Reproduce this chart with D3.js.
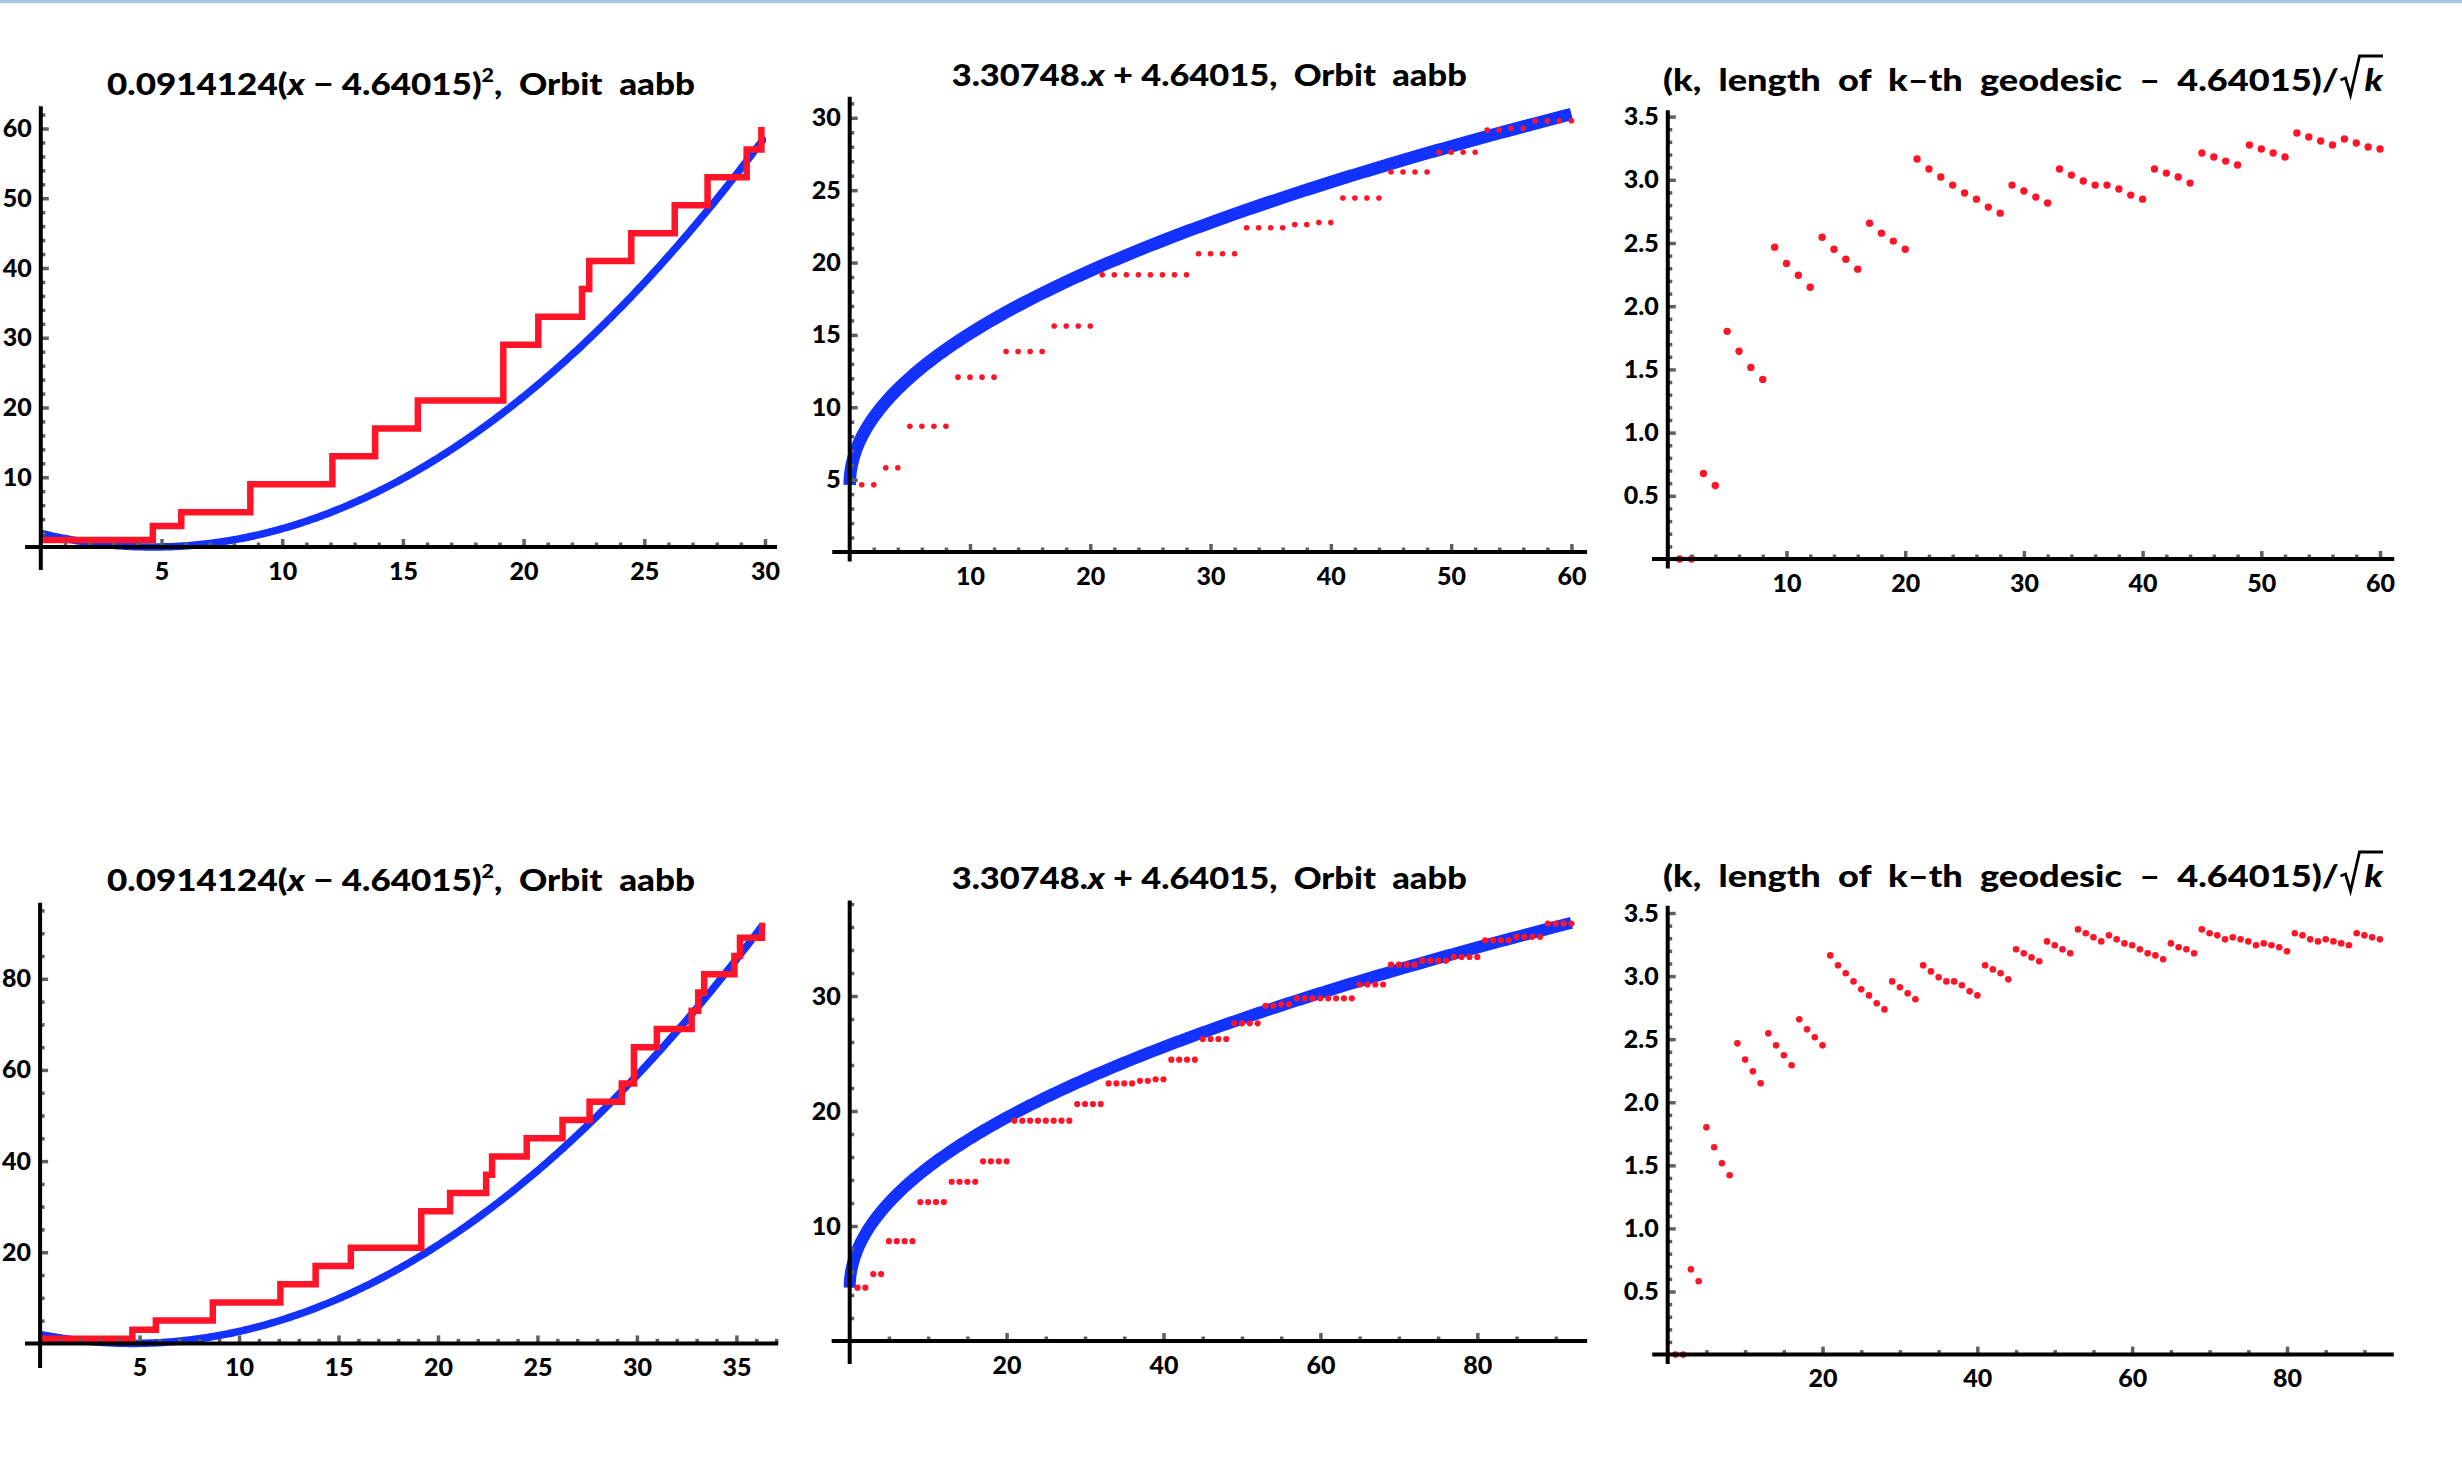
<!DOCTYPE html>
<html>
<head>
<meta charset="utf-8">
<script src="https://cdn.jsdelivr.net/npm/d3@7"></script>
<style>
  body { margin: 0; background: #fff; }
  text { font-family: Lato, "DejaVu Sans", sans-serif; font-weight: 900; }
  .title { white-space: pre; }
</style>
</head>
<body>
<div id="chart"></div>
<script>
// Orbit aabb: length of the k-th geodesic, k = 1..92
var kthLength = [
  4.64, 4.64, 5.82, 5.82,
  8.68, 8.68, 8.68, 8.68, 12.08, 12.08, 12.08, 12.08,
  13.85, 13.85, 13.85, 13.85, 15.62, 15.62, 15.62, 15.62,
  19.16, 19.16, 19.16, 19.16, 19.16, 19.16, 19.16, 19.16,
  20.61, 20.61, 20.61, 20.61, 22.40, 22.40, 22.40, 22.40,
  22.62, 22.62, 22.76, 22.76, 24.46, 24.46, 24.46, 24.46,
  26.26, 26.26, 26.26, 26.26, 27.62, 27.62, 27.62, 27.62,
  29.15, 29.15, 29.28, 29.28,
  29.80, 29.80, 29.80, 29.80, 29.80, 29.80, 29.80, 29.80,
  31.00, 31.00, 31.00, 31.00, 32.72, 32.72, 32.72, 32.72,
  33.07, 33.07, 33.07, 33.07, 33.40, 33.40, 33.40, 33.40,
  34.85, 34.85, 34.85, 34.85, 35.15, 35.15, 35.15, 35.15,
  36.30, 36.30, 36.30, 36.30
];

// (length of k-th geodesic - 4.64015)/sqrt(k), k = 1..92
var normExcess = [
  0, 0, 0.676, 0.581,
  1.801, 1.643, 1.516, 1.421, 2.467, 2.338, 2.245, 2.150,
  2.546, 2.451, 2.372, 2.293, 2.657, 2.578, 2.515, 2.451,
  3.164, 3.085, 3.022, 2.958, 2.895, 2.847, 2.784, 2.736,
  2.958, 2.911, 2.863, 2.816, 3.085, 3.037, 2.990, 2.958,
  2.958, 2.927, 2.879, 2.847, 3.085, 3.053, 3.022, 2.974,
  3.212, 3.180, 3.148, 3.117, 3.275, 3.244, 3.212, 3.180,
  3.370, 3.339, 3.307, 3.275,
  3.323, 3.291, 3.259, 3.244, 3.212, 3.180, 3.164, 3.133,
  3.259, 3.228, 3.212, 3.180, 3.370, 3.339, 3.323, 3.291,
  3.307, 3.291, 3.275, 3.244, 3.259, 3.244, 3.228, 3.196,
  3.339, 3.323, 3.291, 3.275, 3.291, 3.275, 3.259, 3.244,
  3.339, 3.323, 3.307, 3.291
];

// staircase of the left panels: where it jumps, and its level before/after each jump
var stepJumps = [4.64, 5.82, 8.68, 12.08, 13.85, 15.62, 19.16, 20.61, 22.42, 22.72,
  24.46, 26.26, 27.62, 29.24, 29.85, 31.00, 32.75, 33.08, 33.38, 34.90, 35.18, 36.30];
var stepLevels = [1, 3, 5, 9, 13, 17, 21, 29, 33, 37, 41,
  45, 49, 53, 57, 65, 69, 73, 77, 81, 85, 89, 93];

// fitted curves named in the titles
var shortest = 4.64015;
var quadCoef = 0.0914124;
var sqrtCoef = 3.30748;

var red = "#ff1428";
var blue = "#1432ff";

var svgWidth = 2462;
var svgHeight = 1468;

var svg = d3.select("#chart")
    .append("svg")
    .attr("width", svgWidth)
    .attr("height", svgHeight);

// thin window strip at the very top
svg.append("rect")
    .attr("width", svgWidth)
    .attr("height", 3)
    .attr("fill", "#a6c8e4");

var titles = {
    quad: [["0.0914124", ""], ["(", ""], ["x", "i"], [" \u2212 4.64015", ""], [")", ""], ["2", "sup"], [",  Orbit  aabb", ""]],
    sqrt: [["3.30748.", ""], ["x", "i"], [" + 4.64015,  Orbit  aabb", ""]],
    excess: [["(k,  length  of  k\u2013th  geodesic  \u2013  4.64015)/", ""], ["   ", ""], ["k", "i"]]
};

// layout of the six panels (pixel anchors of the plot ranges)
var panels = [
    {kind: "count", n: 60, xd: [0, 30], xr: [40.8, 765], yd: [0, 60], yr: [547, 128.5],
     xExt: [-0.65, 30.5], yExt: [-3.3, 63.2], xMaj: 5, xMin: 1, yMaj: 10, yMin: 2,
     clipX: 30, clipY: 60.2, title: "quad", tx: [107, 695], ty: 95},
    {kind: "length", n: 60, xd: [0, 60], xr: [849.7, 1571.4], yd: [0, 30], yr: [552, 117.8],
     xExt: [-1.45, 61.3], yExt: [-0.65, 31.45], xMaj: 10, xMin: 2, yMaj: 5, yMin: 1,
     r: 2.8, lw: 12.5, title: "sqrt", tx: [951.7, 1466.8], ty: 86},
    {kind: "excess", n: 60, xd: [0, 60], xr: [1667.8, 2380], yd: [0, 3.5], yr: [559, 116.6],
     xExt: [-1.33, 61.2], yExt: [-0.075, 3.55], xMaj: 10, xMin: 2, yMaj: 0.5, yMin: 0.1,
     r: 3.7, title: "excess", tx: [1663, 2383], ty: 91},
    {kind: "count", n: 92, xd: [0, 35], xr: [40.1, 736.4], yd: [0, 80], yr: [1343.4, 978.8],
     xExt: [-0.76, 37.1], yExt: [-5.4, 96.7], xMaj: 5, xMin: 1, yMaj: 20, yMin: 5,
     clipX: 36.4, clipY: 92.3, title: "quad", tx: [107, 695], ty: 891},
    {kind: "length", n: 92, xd: [0, 80], xr: [849.7, 1477.3], yd: [0, 30], yr: [1341, 996],
     xExt: [-2.3, 94], yExt: [-2, 38.3], xMaj: 20, xMin: 5, yMaj: 10, yMin: 2,
     r: 3.1, lw: 12, title: "sqrt", tx: [951.7, 1466.8], ty: 889},
    {kind: "excess", n: 92, xd: [0, 80], xr: [1667.7, 2287], yd: [0, 3.5], yr: [1354.6, 913],
     xExt: [-2, 93.8], yExt: [-0.075, 3.557], xMaj: 20, xMin: 5, yMaj: 0.5, yMin: 0.1,
     r: 3.3, title: "excess", tx: [1663, 2383], ty: 887}
];

function multiples(step, end) {
    return d3.range(1, Math.floor(end / step + 1e-6) + 1).map(i => +(i * step).toFixed(4));
}

function minors(step, majStep, end) {
    return multiples(step, end).filter(v => Math.abs(v / majStep - Math.round(v / majStep)) > 1e-6);
}

function styleTicks(sel) {
    sel.select(".domain").remove();
    sel.selectAll(".tick line")
        .attr("stroke", "#606060")
        .attr("stroke-width", 3.5);
    sel.selectAll(".tick text")
        .attr("fill", "#000")
        .style("font-size", "25px");
}

function drawAxes(g, p, xs, ys) {
    var fmtY = p.yMaj < 1 ? d3.format(".1f") : d3.format("d");

    var xMinor = g.append("g").attr("transform", `translate(0, ${ys(0)})`)
        .call(d3.axisBottom(xs).tickValues(minors(p.xMin, p.xMaj, p.xExt[1])).tickSize(-4.5).tickFormat(""));
    styleTicks(xMinor);
    var xMajor = g.append("g").attr("transform", `translate(0, ${ys(0)})`)
        .call(d3.axisBottom(xs).tickValues(multiples(p.xMaj, p.xExt[1])).tickSize(-8).tickPadding(15).tickFormat(d3.format("d")));
    styleTicks(xMajor);

    var yMinor = g.append("g").attr("transform", `translate(${xs(0)}, 0)`)
        .call(d3.axisLeft(ys).tickValues(minors(p.yMin, p.yMaj, p.yExt[1])).tickSize(-4.5).tickFormat(""));
    styleTicks(yMinor);
    var yMajor = g.append("g").attr("transform", `translate(${xs(0)}, 0)`)
        .call(d3.axisLeft(ys).tickValues(multiples(p.yMaj, p.yExt[1])).tickSize(-8).tickPadding(9).tickFormat(fmtY));
    styleTicks(yMajor);

    // the axis lines themselves
    g.append("line")
        .attr("x1", xs(p.xExt[0])).attr("x2", xs(p.xExt[1]))
        .attr("y1", ys(0)).attr("y2", ys(0))
        .attr("stroke", "#000").attr("stroke-width", 4);
    g.append("line")
        .attr("x1", xs(0)).attr("x2", xs(0))
        .attr("y1", ys(p.yExt[0])).attr("y2", ys(p.yExt[1]))
        .attr("stroke", "#000").attr("stroke-width", 4);
}

function drawTitle(p) {
    var segs = titles[p.title];
    var t = svg.append("text")
        .attr("class", "title")
        .attr("x", p.tx[0])
        .attr("y", p.ty)
        .style("font-size", "31px");
    var lift = 0;
    segs.forEach(function(s) {
        var ts = t.append("tspan").text(s[0]);
        if (s[1] === "i") ts.style("font-style", "italic");
        if (s[1] === "sup") {
            ts.attr("dy", -13).style("font-size", "19px");
            lift = 13;
        } else if (lift) {
            ts.attr("dy", lift);
            lift = 0;
        }
    });
    t.attr("textLength", p.tx[1] - p.tx[0]).attr("lengthAdjust", "spacingAndGlyphs");

    if (p.title === "excess") {
        // radical sign over the final k
        var nChars = d3.sum(segs, s => s[0].length);
        var box = t.node().getExtentOfChar(nChars - 1);
        var kx = box.x, b = p.ty;
        svg.append("path")
            .attr("d", `M${kx - 24},${b - 11} L${kx - 19},${b - 13} L${kx - 14},${b + 4} L${kx - 5},${b - 35} L${p.tx[1]},${b - 35}`)
            .attr("fill", "none")
            .attr("stroke", "#000")
            .attr("stroke-width", 2.8)
            .attr("stroke-linejoin", "miter");
    }
}

panels.forEach(function(p, i) {
    var xs = d3.scaleLinear().domain(p.xd).range(p.xr);
    var ys = d3.scaleLinear().domain(p.yd).range(p.yr);
    var g = svg.append("g");
    var ks = d3.range(1, p.n + 1);

    if (p.kind === "count") {
        var clipId = "clip" + i;
        svg.append("clipPath").attr("id", clipId)
            .append("rect")
            .attr("x", xs(0) - 1)
            .attr("y", ys(p.clipY))
            .attr("width", xs(p.clipX) - xs(0) + 2)
            .attr("height", ys(0) - ys(p.clipY) + 8);
        var inner = g.append("g").attr("clip-path", `url(#${clipId})`);

        var xsQuad = d3.range(0, p.clipX + 0.001, p.clipX / 300);
        var quadLine = d3.line()
            .x(d => xs(d))
            .y(d => ys(quadCoef * (d - shortest) * (d - shortest)));
        inner.append("path")
            .attr("d", quadLine(xsQuad))
            .attr("fill", "none")
            .attr("stroke", blue)
            .attr("stroke-width", 7.5);

        var stairs = [[0, stepLevels[0]]]
            .concat(stepJumps.map((x, j) => [x, stepLevels[j + 1]]))
            .concat([[p.clipX + 2, stepLevels[stepLevels.length - 1]]]);
        var stepLine = d3.line()
            .x(d => xs(d[0]))
            .y(d => ys(d[1]))
            .curve(d3.curveStepAfter);
        inner.append("path")
            .attr("d", stepLine(stairs))
            .attr("fill", "none")
            .attr("stroke", red)
            .attr("stroke-width", 6.5);
    }

    if (p.kind === "length") {
        // sample on t^2 so the steep start of the root curve is smooth
        var xsRoot = d3.range(0, 301).map(j => p.n * (j / 300) * (j / 300));
        var rootLine = d3.line()
            .x(d => xs(d))
            .y(d => ys(sqrtCoef * Math.sqrt(d) + shortest));
        g.append("path")
            .attr("d", rootLine(xsRoot))
            .attr("fill", "none")
            .attr("stroke", blue)
            .attr("stroke-width", p.lw);

        g.selectAll(".dot")
            .data(ks)
            .enter()
            .append("circle")
            .attr("cx", k => xs(k))
            .attr("cy", k => ys(kthLength[k - 1]))
            .attr("r", p.r)
            .attr("fill", red);
    }

    if (p.kind === "excess") {
        g.selectAll(".dot")
            .data(ks)
            .enter()
            .append("circle")
            .attr("cx", k => xs(k))
            .attr("cy", k => ys(normExcess[k - 1]))
            .attr("r", p.r)
            .attr("fill", red);
    }

    drawAxes(g, p, xs, ys);
    drawTitle(p);
});
</script>
</body>
</html>
